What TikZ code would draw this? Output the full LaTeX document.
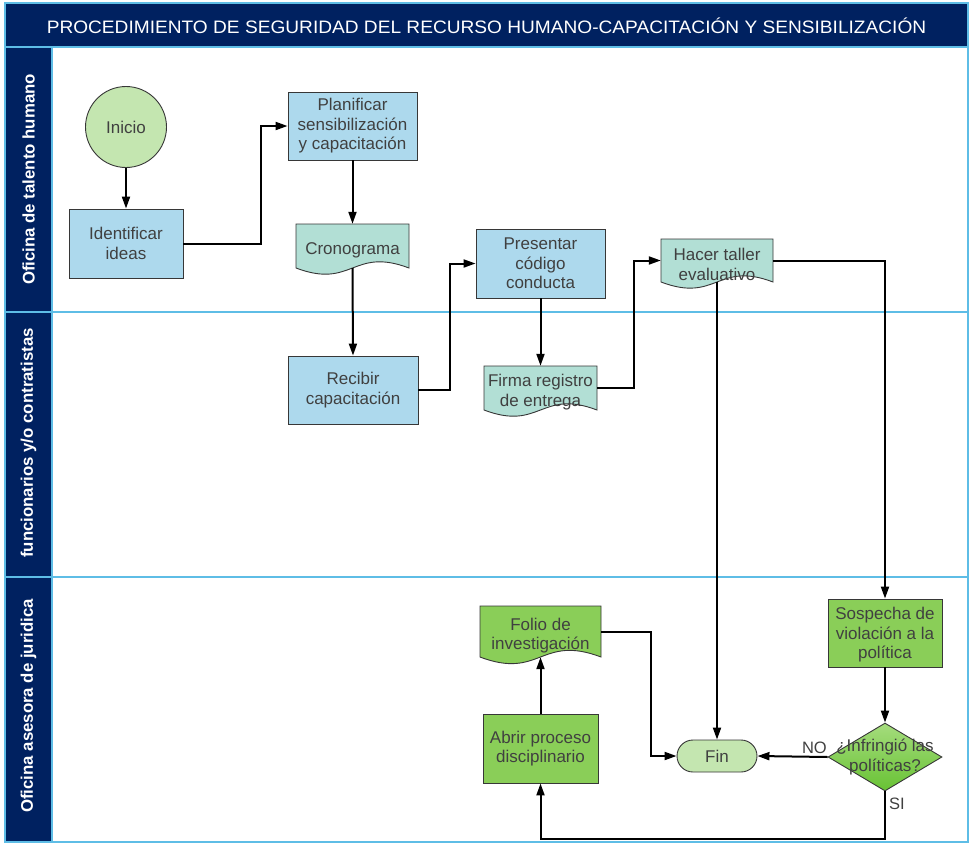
\documentclass[tikz,border=0pt]{standalone}
\usepackage{fontspec}
\setmainfont{Liberation Sans}
\usetikzlibrary{shapes.geometric,arrows.meta}

\definecolor{navy}{RGB}{0,33,96}
\definecolor{laneline}{RGB}{94,189,230}
\definecolor{procblue}{RGB}{173,217,237}
\definecolor{docteal}{RGB}{178,223,213}
\definecolor{startgreen}{RGB}{196,230,176}
\definecolor{jurgreen}{RGB}{138,206,88}
\definecolor{diatop}{RGB}{165,220,125}
\definecolor{diabot}{RGB}{104,194,52}
\definecolor{inktext}{RGB}{64,64,64}
\definecolor{shapeline}{RGB}{55,55,55}

\tikzset{
  shapebase/.style={draw=shapeline, line width=0.9pt, text=inktext, align=center,
    inner sep=0pt, font=\fontsize{17}{19.5}\selectfont},
  proc/.style={shapebase, rectangle, fill=procblue},
  jur/.style={shapebase, rectangle, fill=jurgreen},
  term/.style={shapebase, fill=startgreen},
  docbox/.style={rectangle, inner sep=0pt},
  doclabel/.style={text=inktext, align=center, inner sep=0pt,
    font=\fontsize{17}{19.5}\selectfont},
  diatext/.style={text=inktext, align=center, inner sep=0pt,
    font=\fontsize{17}{19.5}\selectfont},
  edgelabel/.style={text=inktext, inner sep=0pt, font=\fontsize{16.5}{19}\selectfont},
  flow/.style={line width=2pt, -{Triangle[length=12pt,width=8pt]}},
  lanetitle/.style={text=white, font=\bfseries\fontsize{16.8}{19}\selectfont, rotate=90},
  lanerule/.style={draw=laneline, line width=1.2pt},
}

% document symbol: flat top, wavy bottom; #1 name, #2..#5 box, #6 fill, #7 text
\newcommand{\docshape}[7]{%
  \pgfmathsetmacro{\dmx}{(#2+#4)/2}%
  \pgfmathsetmacro{\dmy}{(#3+#5)/2}%
  \pgfmathsetmacro{\dw}{#4-#2}%
  \pgfmathsetmacro{\dh}{#5-#3}%
  \pgfmathsetmacro{\dc}{0.19*(#4-#2)}%
  \filldraw[fill=#6, draw=shapeline, line width=0.9pt]
    (#2,#3) -- (#4,#3) -- (#4,#5)
    .. controls (\dmx,#5-\dc) and (\dmx,#5+\dc) .. (#2,#5) -- cycle;
  \node[docbox, minimum width=\dw pt, minimum height=\dh pt,
        label={[doclabel, yshift=-4pt]center:{#7}}] (#1) at (\dmx,\dmy) {};
}

\begin{document}
\begin{tikzpicture}[x=1pt,y=-1pt]
  \useasboundingbox (0,0) rectangle (970,844);
  \fill[white] (0,0) rectangle (970,844);

  % header band and lane label column
  \fill[navy] (5,3) rectangle (968,47);
  \fill[navy] (5,47) rectangle (52,842);
  \draw[lanerule] (5,3) rectangle (968,842);
  \draw[lanerule] (5,47) -- (968,47) (5,312) -- (968,312) (5,577) -- (968,577) (52,47) -- (52,842);

  \node[text=white, font=\fontsize{18}{20}\selectfont, anchor=base] (title) at (486.5,33.5)
    {\scalebox{1.062}[1]{PROCEDIMIENTO DE SEGURIDAD DEL RECURSO HUMANO-CAPACITACIÓN Y SENSIBILIZACIÓN}};

  \node[lanetitle] (lane1) at (28.5,179.5) {Oficina de talento humano};
  \node[lanetitle] (lane2) at (28.5,443) {funcionarios y/o contratistas};
  \node[lanetitle] (lane3) at (28.5,706) {Oficina asesora de juridica};

  % lane 1
  \node[term, circle, minimum size=81pt] (inicio) at (126,127) {Inicio};
  \node[proc, minimum width=114pt, minimum height=69pt] (ident) at (126,243.5) {Identificar\\ideas};
  \node[proc, minimum width=129pt, minimum height=68pt] (plan) at (352.5,126)
    {Planificar\\sensibilización\\y capacitación};
  \docshape{cron}{296}{224}{409}{268}{docteal}{Cronograma}
  \node[proc, minimum width=129pt, minimum height=69pt] (pres) at (540.5,263.5)
    {Presentar\\código\\conducta};
  \docshape{hacer}{661}{239}{773}{282}{docteal}{Hacer taller\\evaluativo}

  % lane 2
  \node[proc, minimum width=130pt, minimum height=68pt] (recib) at (353,390) {Recibir\\capacitación};
  \docshape{firma}{484}{366}{597}{410}{docteal}{Firma registro\\de entrega}

  % lane 3
  \node[jur, minimum width=114pt, minimum height=68pt, text depth=0pt] (sosp) at (885,633)
    {Sospecha de\\violación a la\\política};
  \node[shapebase, diamond, minimum width=114pt, minimum height=68pt,
        top color=diatop, bottom color=diabot,
        label={[diatext]center:{¿Infringió las\\políticas?}}] (dia) at (885,757) {};
  \node[term, rounded corners=16pt, minimum width=80pt, minimum height=32pt] (fin) at (717,756) {Fin};
  \node[jur, minimum width=115pt, minimum height=69pt] (abrir) at (540.5,748.5)
    {Abrir proceso\\disciplinario};
  \docshape{folio}{480}{606}{601}{657}{jurgreen}{Folio de\\investigación}

  \node[edgelabel, anchor=base east] (nolab) at (827,753) {NO};
  \node[edgelabel, anchor=base west] (silab) at (889,809) {SI};

  % connectors
  \draw[flow] (inicio.south) -- (ident.north);
  \draw[flow] (ident.east) -- ++(78,0) |- (plan.west);
  \draw[flow] (plan.south) -- (cron.north);
  \draw[flow] (cron.south) -- (recib.north);
  \draw[flow] (recib.east) -- ++(32,0) |- (pres.west);
  \draw[flow] (pres.south) -- (firma.north);
  \draw[flow] (firma.east) -- ++(37,0) |- (hacer.west);
  \draw[flow] (hacer.south) -- (fin.north);
  \draw[flow] (hacer.east) -| (sosp.north);
  \draw[flow] (sosp.south) -- (dia.north);
  \draw[flow] (dia.west) -- (fin.east);
  \coordinate (sibend) at (885,839);
  \draw[flow] (dia.south) -- (sibend) -| (abrir.south);
  \draw[flow] (abrir.north) -- (folio.south);
  \draw[flow] (folio.east) -- ++(50,0) |- (fin.west);
\end{tikzpicture}
\end{document}
